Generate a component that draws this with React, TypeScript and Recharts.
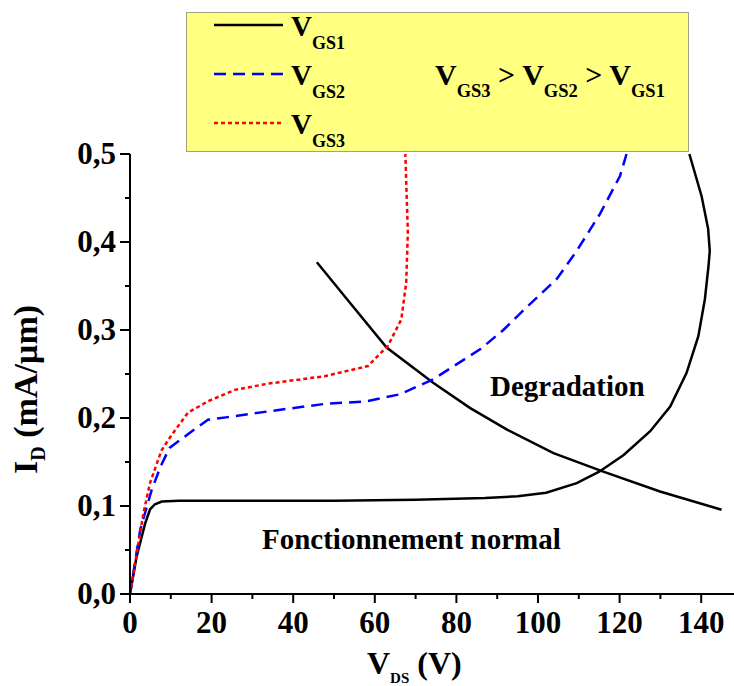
import { Line, LineChart, XAxis, YAxis } from "recharts";

const FONT = "'Liberation Serif', 'DejaVu Serif', 'Times New Roman', serif";

/* ────────────────────────────────────────────────────────────
 * Data: V_DS (V) and I_D (mA/µm)
 * ──────────────────────────────────────────────────────────── */

const VGS1_V = [0, 1.6, 3.7, 4.9, 6.1, 7.8, 12, 30, 50, 70, 87, 95, 102, 109.5, 115, 121, 127.5, 132.4, 136.4, 139.3, 140.9, 141.8, 142.1, 141.7, 140.1, 137.1];
const VGS1_I = [0, 0.042, 0.08, 0.096, 0.102, 0.105, 0.106, 0.106, 0.106, 0.107, 0.109, 0.111, 0.115, 0.126, 0.139, 0.158, 0.185, 0.213, 0.251, 0.293, 0.335, 0.373, 0.39, 0.415, 0.452, 0.5];

const VGS2_V = [0, 2.5, 5.3, 7.5, 9.7, 14.6, 19.1, 24, 34.6, 47.7, 58, 66.2, 74.3, 85.8, 91.5, 97, 104.6, 109.5, 115.2, 120.1, 121.7];
const VGS2_I = [0, 0.073, 0.118, 0.145, 0.166, 0.183, 0.198, 0.201, 0.208, 0.216, 0.219, 0.227, 0.244, 0.278, 0.3, 0.325, 0.358, 0.39, 0.432, 0.475, 0.5];

const VGS3_V = [0, 3.3, 4.9, 7.7, 10.1, 14.2, 19.1, 25.7, 33.8, 47.7, 58.3, 63.2, 66.5, 67.7, 68.1, 67.7, 67.5];
const VGS3_I = [0, 0.092, 0.126, 0.163, 0.18, 0.206, 0.219, 0.232, 0.239, 0.2475, 0.259, 0.282, 0.312, 0.354, 0.411, 0.468, 0.5];

const LIMIT_V = [45.8, 53.9, 62.9, 74.3, 83.3, 92.3, 103.8, 116, 129.9, 145];
const LIMIT_I = [0.377, 0.331, 0.28, 0.24, 0.2115, 0.187, 0.16, 0.139, 0.1165, 0.0957];

const X_TICKS = [0, 10, 20, 30, 40, 50, 60, 70, 80, 90, 100, 110, 120, 130, 140, 150];
const Y_TICKS = [0, 0.05, 0.1, 0.15, 0.2, 0.25, 0.3, 0.35, 0.4, 0.45, 0.5];

function toPoints(vs: number[], is: number[]) {
  return vs.map((v, k) => ({ v, i: is[k] }));
}

const vgs1 = toPoints(VGS1_V, VGS1_I);
const vgs2 = toPoints(VGS2_V, VGS2_I);
const vgs3 = toPoints(VGS3_V, VGS3_I);
const limit = toPoints(LIMIT_V, LIMIT_I);

const txt = { fontFamily: FONT, fontWeight: 700 } as const;

/* ────────────────────────────────────────────────────────────
 * Tick renderers (major + minor ticks, Origin style)
 * ──────────────────────────────────────────────────────────── */

const isMajorX = (v: number) => v % 20 === 0;
const isMajorY = (v: number) => Math.round(v * 100) % 10 === 0;

function BottomTick({ x, y, payload }: any) {
  const v = payload.value;
  const major = isMajorX(v);
  return (
    <g>
      <line x1={x} y1={y} x2={x} y2={y + (major ? 9 : 5)} stroke="#000" strokeWidth={2} />
      {major && (
        <text x={x} y={y + 39} textAnchor="middle" fontSize={31} fill="#000" style={txt}>
          {v}
        </text>
      )}
    </g>
  );
}

function TopTick({ x, y, payload }: any) {
  const major = isMajorX(payload.value);
  return <line x1={x} y1={y} x2={x} y2={y + (major ? 9 : 5)} stroke="#000" strokeWidth={2} />;
}

function LeftTick({ x, y, payload }: any) {
  const v = payload.value;
  const major = isMajorY(v);
  return (
    <g>
      <line x1={x} y1={y} x2={x - (major ? 10 : 5)} y2={y} stroke="#000" strokeWidth={2} />
      {major && (
        <text x={x - 14} y={y + 10} textAnchor="end" fontSize={31} fill="#000" style={txt}>
          {v.toFixed(1).replace(".", ",")}
        </text>
      )}
    </g>
  );
}

function RightTick({ x, y, payload }: any) {
  const major = isMajorY(payload.value);
  return <line x1={x} y1={y} x2={x - (major ? 10 : 5)} y2={y} stroke="#000" strokeWidth={2} />;
}

/* ────────────────────────────────────────────────────────────
 * Overlay: legend box, annotations, axis titles
 * ──────────────────────────────────────────────────────────── */

function Vsub({ x, y, sub }: { x: number; y: number; sub: string }) {
  return (
    <text x={x} y={y} fill="#000" style={txt}>
      <tspan fontSize={29}>V</tspan>
      <tspan fontSize={18} dy={13}>{sub}</tspan>
    </text>
  );
}

function Overlay() {
  return (
    <svg width={734} height={686} style={{ position: "absolute", left: 0, top: 0, pointerEvents: "none" }}>
      <rect x={186.5} y={12.5} width={502} height={139} fill="#FFFF80" stroke="#444" strokeWidth={1} strokeDasharray="1 1" />
      <line x1={214} x2={283} y1={25} y2={25} stroke="#000" strokeWidth={2.5} />
      <line x1={214} x2={283} y1={74} y2={74} stroke="#0000FF" strokeWidth={2.5} strokeDasharray="12 7" />
      <line x1={214} x2={283} y1={123} y2={123} stroke="#FF0000" strokeWidth={2.5} strokeDasharray="4 3" />
      <Vsub x={291} y={36} sub="GS1" />
      <Vsub x={291} y={85} sub="GS2" />
      <Vsub x={291} y={134} sub="GS3" />

      <text x={435} y={85} fill="#000" style={txt}>
        <tspan fontSize={30}>V</tspan>
        <tspan fontSize={18.5} dy={12}>GS3</tspan>
        <tspan fontSize={30} dy={-12}> &gt; V</tspan>
        <tspan fontSize={18.5} dy={12}>GS2</tspan>
        <tspan fontSize={30} dy={-12}> &gt; V</tspan>
        <tspan fontSize={18.5} dy={12}>GS1</tspan>
      </text>

      <text x={490} y={396} fontSize={29} fill="#000" style={txt}>
        Degradation
      </text>
      <text x={262} y={549} fontSize={29} fill="#000" style={txt}>
        Fonctionnement normal
      </text>

      {/* X axis title */}
      <text x={367} y={674} fill="#000" style={txt}>
        <tspan fontSize={32}>V</tspan>
        <tspan fontSize={15} dy={9}>DS</tspan>
        <tspan fontSize={32} dy={-9}> (V)</tspan>
      </text>

      {/* Y axis title */}
      <text transform="translate(37 474) rotate(-90)" fill="#000" style={txt}>
        <tspan fontSize={34}>I</tspan>
        <tspan fontSize={20} dy={8}>D</tspan>
        <tspan fontSize={34} dy={-8}> (mA/µm)</tspan>
      </text>
    </svg>
  );
}

/* ────────────────────────────────────────────────────────────
 * Chart
 * ──────────────────────────────────────────────────────────── */

export default function App() {
  return (
    <div style={{ position: "absolute", left: 0, top: 0, width: 734, height: 686, overflow: "hidden", background: "#fff" }}>
      <LineChart width={760} height={686} margin={{ top: 154, right: 0, bottom: 0, left: 0 }}>
        <XAxis
          type="number"
          dataKey="v"
          domain={[0, 150]}
          ticks={X_TICKS}
          interval={0}
          height={92}
          tickSize={0}
          tickMargin={0}
          tickLine={false}
          tick={BottomTick}
          axisLine={{ stroke: "#000", strokeWidth: 2 }}
        />
        <XAxis
          xAxisId="top"
          orientation="top"
          type="number"
          dataKey="v"
          domain={[0, 150]}
          ticks={X_TICKS}
          interval={0}
          height={0}
          tickSize={0}
          tickMargin={0}
          tickLine={false}
          tick={TopTick}
          axisLine={{ stroke: "#000", strokeWidth: 2 }}
        />
        <YAxis
          type="number"
          domain={[0, 0.5]}
          ticks={Y_TICKS}
          interval={0}
          width={130}
          tickSize={0}
          tickMargin={0}
          tickLine={false}
          tick={LeftTick}
          axisLine={{ stroke: "#000", strokeWidth: 2 }}
        />
        <YAxis
          yAxisId="right"
          orientation="right"
          type="number"
          domain={[0, 0.5]}
          ticks={Y_TICKS}
          interval={0}
          width={18}
          tickSize={0}
          tickMargin={0}
          tickLine={false}
          tick={RightTick}
          axisLine={{ stroke: "#000", strokeWidth: 2 }}
        />
        <Line data={limit} dataKey="i" type="linear" stroke="#000" strokeWidth={2.5} dot={false} isAnimationActive={false} />
        <Line data={vgs1} dataKey="i" type="linear" stroke="#000" strokeWidth={2.5} dot={false} isAnimationActive={false} />
        <Line data={vgs2} dataKey="i" type="linear" stroke="#0000FF" strokeWidth={2.5} strokeDasharray="12 7" dot={false} isAnimationActive={false} />
        <Line data={vgs3} dataKey="i" type="linear" stroke="#FF0000" strokeWidth={2.5} strokeDasharray="4 3" dot={false} isAnimationActive={false} />
      </LineChart>
      <Overlay />
    </div>
  );
}
